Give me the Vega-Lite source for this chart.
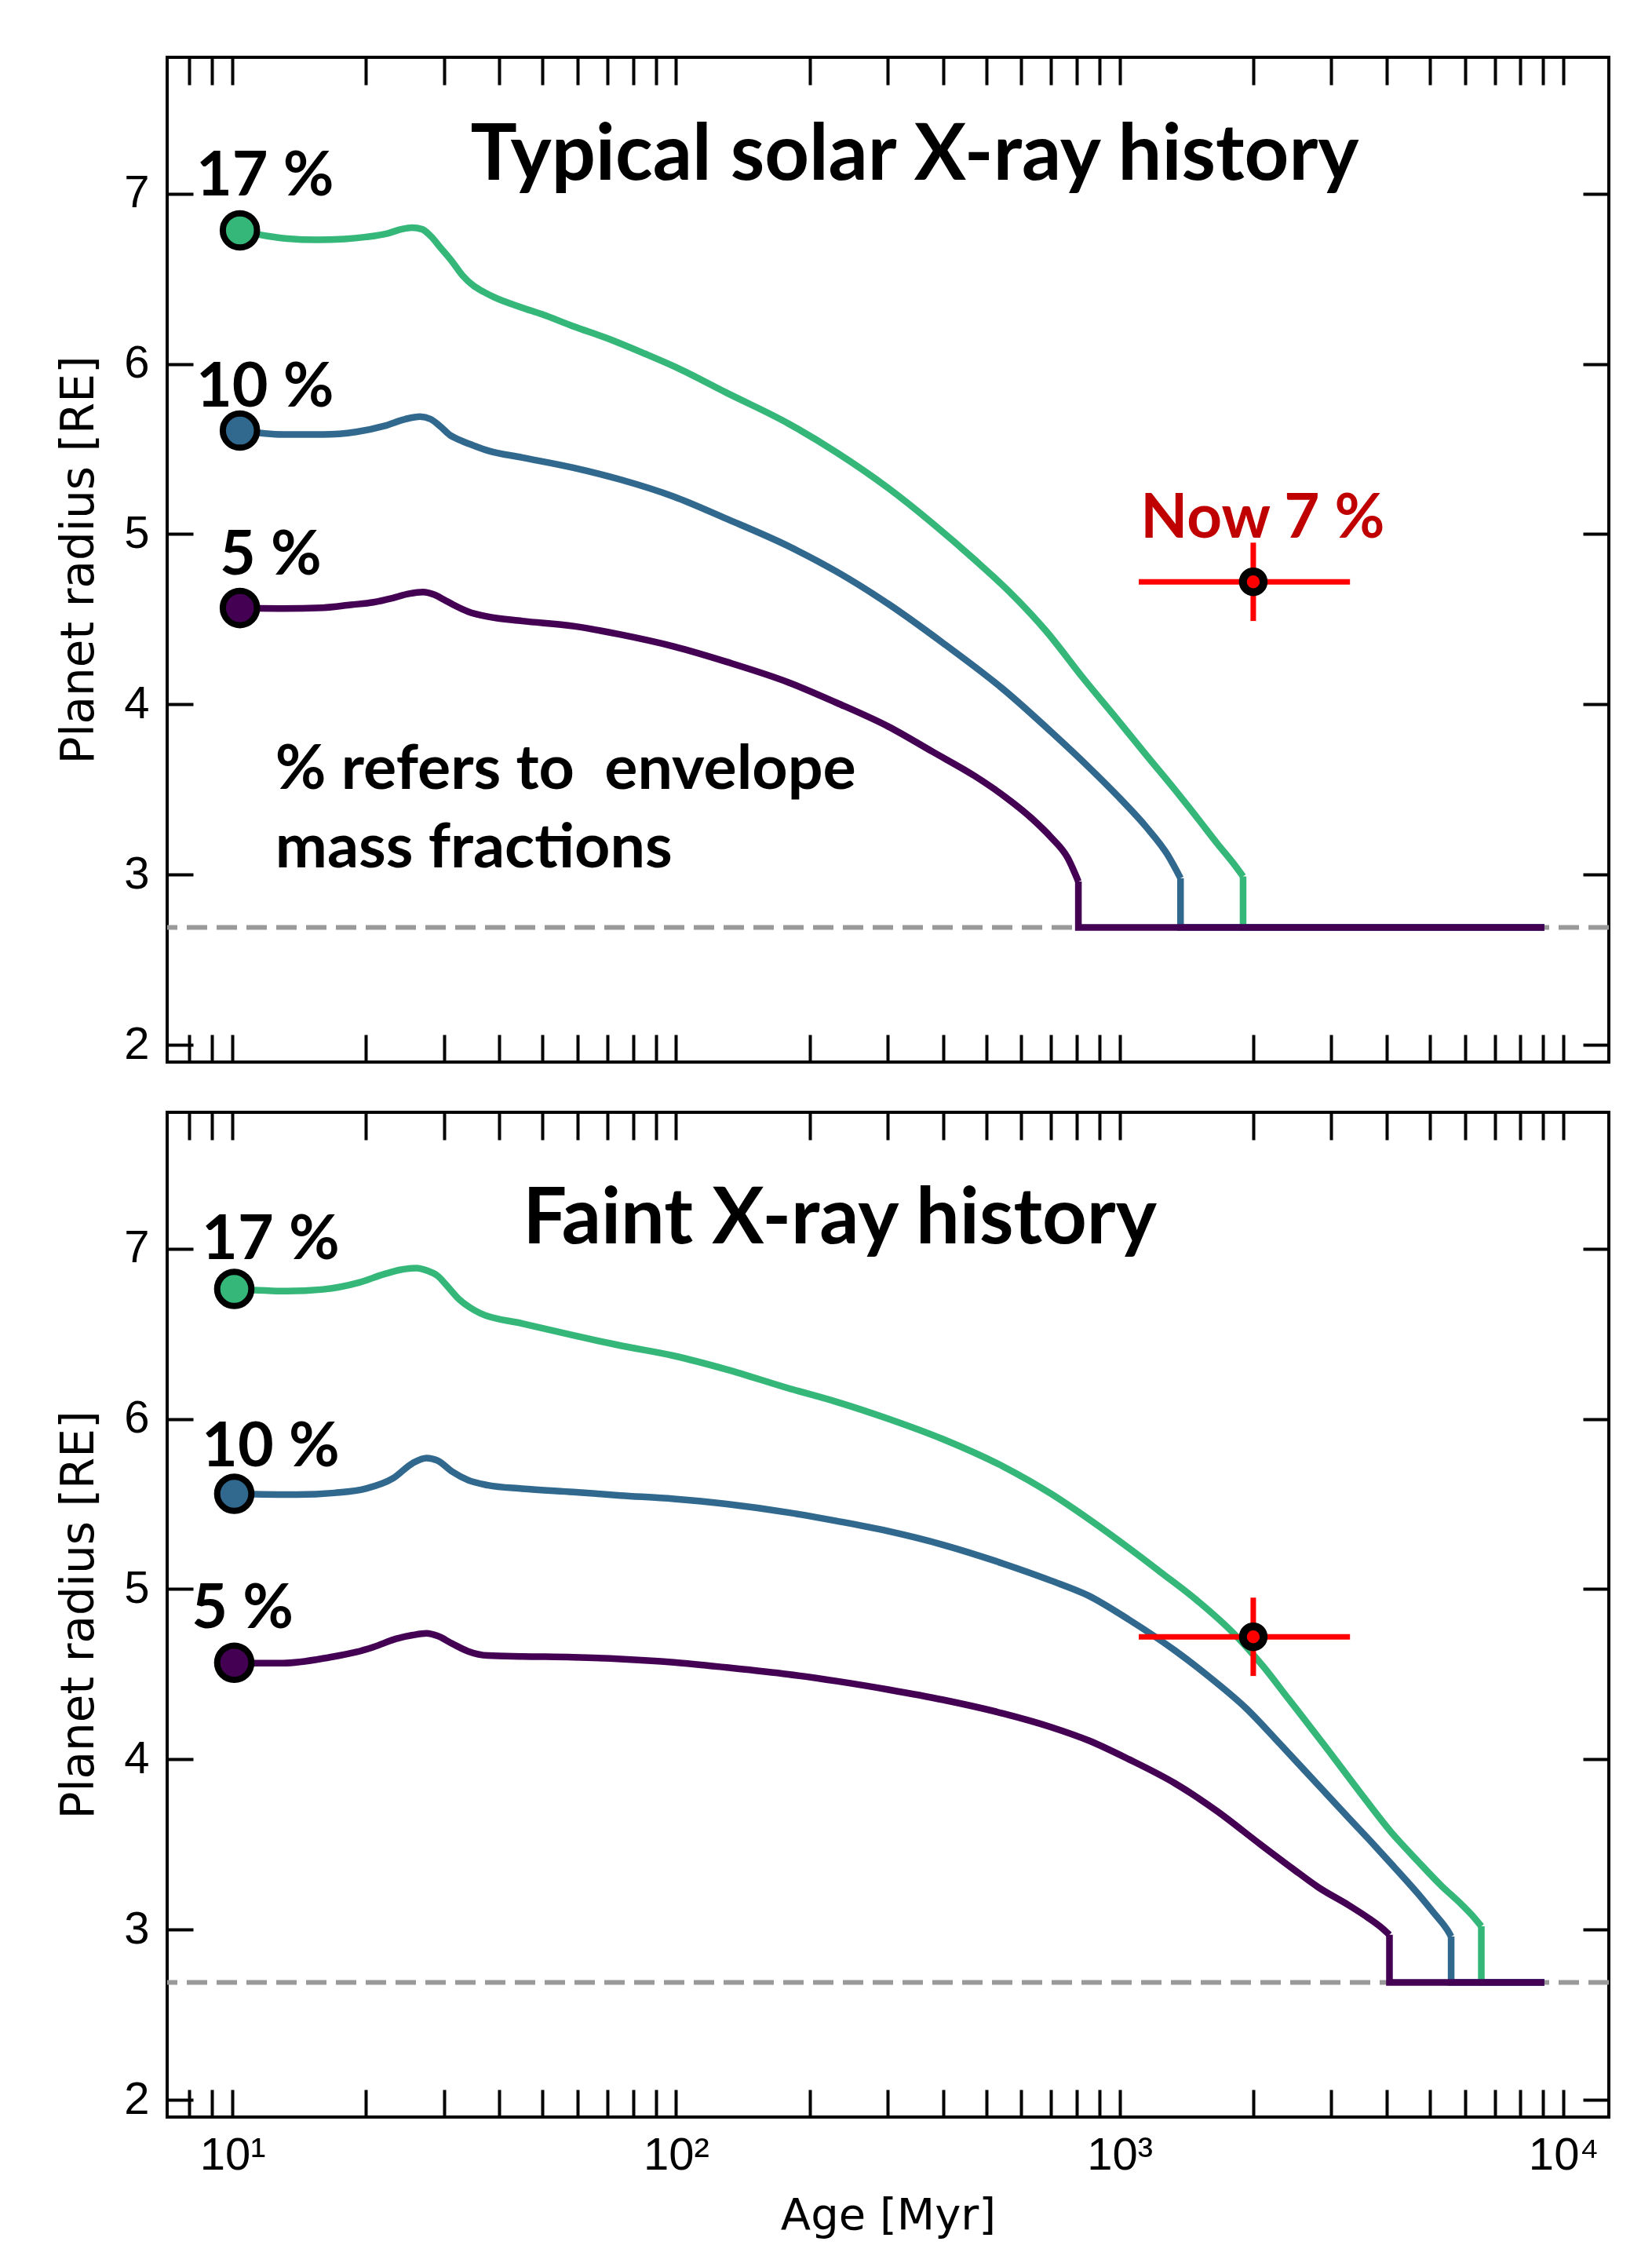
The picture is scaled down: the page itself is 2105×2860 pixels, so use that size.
{
  "$schema": "https://vega.github.io/schema/vega-lite/v6.json",
  "background": "white",
  "padding": {"left": 70, "top": 69, "right": 10, "bottom": 4},
  "spacing": 50,
  "config": {
    "view": {"stroke": "black", "strokeWidth": 4},
    "axis": {"domain": false, "grid": false, "tickColor": "black", "tickWidth": 4, "labelFont": "Liberation Sans", "labelFontSize": 58, "labelColor": "black", "titleFont": "DejaVu Sans", "titleFontSize": 58, "titleFontWeight": "normal", "titleColor": "black", "labelOverlap": false, "labelFlush": false}
  },
  "datasets": {
    "curves": [
      {"panel":"top","series":"17 %","seg":"s","age":10.4,"radius":6.784},
      {"panel":"top","series":"17 %","seg":"s","age":12,"radius":6.75},
      {"panel":"top","series":"17 %","seg":"s","age":13.3,"radius":6.735},
      {"panel":"top","series":"17 %","seg":"s","age":15.5,"radius":6.728},
      {"panel":"top","series":"17 %","seg":"s","age":17.9,"radius":6.733},
      {"panel":"top","series":"17 %","seg":"s","age":20,"radius":6.745},
      {"panel":"top","series":"17 %","seg":"s","age":22.4,"radius":6.766},
      {"panel":"top","series":"17 %","seg":"s","age":24,"radius":6.79},
      {"panel":"top","series":"17 %","seg":"s","age":25.4,"radius":6.8},
      {"panel":"top","series":"17 %","seg":"s","age":26.8,"radius":6.79},
      {"panel":"top","series":"17 %","seg":"s","age":28,"radius":6.75},
      {"panel":"top","series":"17 %","seg":"s","age":29.5,"radius":6.68},
      {"panel":"top","series":"17 %","seg":"s","age":31.3,"radius":6.6},
      {"panel":"top","series":"17 %","seg":"s","age":33,"radius":6.52},
      {"panel":"top","series":"17 %","seg":"s","age":34.9,"radius":6.46},
      {"panel":"top","series":"17 %","seg":"s","age":37,"radius":6.42},
      {"panel":"top","series":"17 %","seg":"s","age":39,"radius":6.39},
      {"panel":"top","series":"17 %","seg":"s","age":45,"radius":6.33},
      {"panel":"top","series":"17 %","seg":"s","age":50,"radius":6.29},
      {"panel":"top","series":"17 %","seg":"s","age":58.7,"radius":6.22},
      {"panel":"top","series":"17 %","seg":"s","age":70,"radius":6.15},
      {"panel":"top","series":"17 %","seg":"s","age":85,"radius":6.06},
      {"panel":"top","series":"17 %","seg":"s","age":100,"radius":5.98},
      {"panel":"top","series":"17 %","seg":"s","age":130,"radius":5.83},
      {"panel":"top","series":"17 %","seg":"s","age":179,"radius":5.65},
      {"panel":"top","series":"17 %","seg":"s","age":230,"radius":5.48},
      {"panel":"top","series":"17 %","seg":"s","age":301,"radius":5.27},
      {"panel":"top","series":"17 %","seg":"s","age":380,"radius":5.06},
      {"panel":"top","series":"17 %","seg":"s","age":471,"radius":4.85},
      {"panel":"top","series":"17 %","seg":"s","age":570,"radius":4.65},
      {"panel":"top","series":"17 %","seg":"s","age":683,"radius":4.43},
      {"panel":"top","series":"17 %","seg":"s","age":830,"radius":4.15},
      {"panel":"top","series":"17 %","seg":"s","age":989,"radius":3.91},
      {"panel":"top","series":"17 %","seg":"s","age":1150,"radius":3.7},
      {"panel":"top","series":"17 %","seg":"s","age":1331,"radius":3.5},
      {"panel":"top","series":"17 %","seg":"s","age":1500,"radius":3.33},
      {"panel":"top","series":"17 %","seg":"s","age":1663,"radius":3.18},
      {"panel":"top","series":"17 %","seg":"s","age":1800,"radius":3.07},
      {"panel":"top","series":"17 %","seg":"s","age":1897,"radius":2.99},
      {"panel":"top","series":"10 %","seg":"s","age":10.4,"radius":5.608},
      {"panel":"top","series":"10 %","seg":"s","age":13,"radius":5.585},
      {"panel":"top","series":"10 %","seg":"s","age":16,"radius":5.585},
      {"panel":"top","series":"10 %","seg":"s","age":19,"radius":5.6},
      {"panel":"top","series":"10 %","seg":"s","age":22,"radius":5.635},
      {"panel":"top","series":"10 %","seg":"s","age":24.5,"radius":5.675},
      {"panel":"top","series":"10 %","seg":"s","age":26.5,"radius":5.69},
      {"panel":"top","series":"10 %","seg":"s","age":28,"radius":5.675},
      {"panel":"top","series":"10 %","seg":"s","age":29.5,"radius":5.63},
      {"panel":"top","series":"10 %","seg":"s","age":31,"radius":5.58},
      {"panel":"top","series":"10 %","seg":"s","age":32.4,"radius":5.555},
      {"panel":"top","series":"10 %","seg":"s","age":35,"radius":5.52},
      {"panel":"top","series":"10 %","seg":"s","age":37.7,"radius":5.49},
      {"panel":"top","series":"10 %","seg":"s","age":45,"radius":5.45},
      {"panel":"top","series":"10 %","seg":"s","age":58.7,"radius":5.39},
      {"panel":"top","series":"10 %","seg":"s","age":75,"radius":5.32},
      {"panel":"top","series":"10 %","seg":"s","age":98.9,"radius":5.22},
      {"panel":"top","series":"10 %","seg":"s","age":130,"radius":5.09},
      {"panel":"top","series":"10 %","seg":"s","age":179,"radius":4.93},
      {"panel":"top","series":"10 %","seg":"s","age":230,"radius":4.78},
      {"panel":"top","series":"10 %","seg":"s","age":301,"radius":4.59},
      {"panel":"top","series":"10 %","seg":"s","age":400,"radius":4.36},
      {"panel":"top","series":"10 %","seg":"s","age":546,"radius":4.09},
      {"panel":"top","series":"10 %","seg":"s","age":700,"radius":3.84},
      {"panel":"top","series":"10 %","seg":"s","age":853,"radius":3.63},
      {"panel":"top","series":"10 %","seg":"s","age":1000,"radius":3.45},
      {"panel":"top","series":"10 %","seg":"s","age":1148,"radius":3.28},
      {"panel":"top","series":"10 %","seg":"s","age":1280,"radius":3.12},
      {"panel":"top","series":"10 %","seg":"s","age":1371,"radius":2.98},
      {"panel":"top","series":"5 %","seg":"s","age":10.4,"radius":4.566},
      {"panel":"top","series":"5 %","seg":"s","age":13,"radius":4.563},
      {"panel":"top","series":"5 %","seg":"s","age":16,"radius":4.568},
      {"panel":"top","series":"5 %","seg":"s","age":18.5,"radius":4.585},
      {"panel":"top","series":"5 %","seg":"s","age":20.8,"radius":4.6},
      {"panel":"top","series":"5 %","seg":"s","age":23,"radius":4.625},
      {"panel":"top","series":"5 %","seg":"s","age":25,"radius":4.65},
      {"panel":"top","series":"5 %","seg":"s","age":26.9,"radius":4.66},
      {"panel":"top","series":"5 %","seg":"s","age":28.5,"radius":4.645},
      {"panel":"top","series":"5 %","seg":"s","age":30,"radius":4.615},
      {"panel":"top","series":"5 %","seg":"s","age":31.5,"radius":4.585},
      {"panel":"top","series":"5 %","seg":"s","age":34,"radius":4.545},
      {"panel":"top","series":"5 %","seg":"s","age":37.7,"radius":4.515},
      {"panel":"top","series":"5 %","seg":"s","age":45,"radius":4.49},
      {"panel":"top","series":"5 %","seg":"s","age":58.7,"radius":4.46},
      {"panel":"top","series":"5 %","seg":"s","age":75,"radius":4.41},
      {"panel":"top","series":"5 %","seg":"s","age":98.9,"radius":4.34},
      {"panel":"top","series":"5 %","seg":"s","age":130,"radius":4.25},
      {"panel":"top","series":"5 %","seg":"s","age":179,"radius":4.13},
      {"panel":"top","series":"5 %","seg":"s","age":230,"radius":4.01},
      {"panel":"top","series":"5 %","seg":"s","age":301,"radius":3.87},
      {"panel":"top","series":"5 %","seg":"s","age":380,"radius":3.72},
      {"panel":"top","series":"5 %","seg":"s","age":471,"radius":3.58},
      {"panel":"top","series":"5 %","seg":"s","age":550,"radius":3.46},
      {"panel":"top","series":"5 %","seg":"s","age":634,"radius":3.33},
      {"panel":"top","series":"5 %","seg":"s","age":700,"radius":3.22},
      {"panel":"top","series":"5 %","seg":"s","age":763,"radius":3.1},
      {"panel":"top","series":"5 %","seg":"s","age":807,"radius":2.96},
      {"panel":"top","series":"17 %","seg":"d","age":1897,"radius":2.99},
      {"panel":"top","series":"17 %","seg":"d","age":1897,"radius":2.69},
      {"panel":"top","series":"17 %","seg":"d","age":9060,"radius":2.69},
      {"panel":"top","series":"10 %","seg":"d","age":1371,"radius":2.98},
      {"panel":"top","series":"10 %","seg":"d","age":1371,"radius":2.69},
      {"panel":"top","series":"10 %","seg":"d","age":9060,"radius":2.69},
      {"panel":"top","series":"5 %","seg":"d","age":807,"radius":2.96},
      {"panel":"top","series":"5 %","seg":"d","age":807,"radius":2.69},
      {"panel":"top","series":"5 %","seg":"d","age":9060,"radius":2.69},
      {"panel":"bottom","series":"17 %","seg":"s","age":10.1,"radius":6.763},
      {"panel":"bottom","series":"17 %","seg":"s","age":13.3,"radius":6.75},
      {"panel":"bottom","series":"17 %","seg":"s","age":16,"radius":6.76},
      {"panel":"bottom","series":"17 %","seg":"s","age":19.3,"radius":6.8},
      {"panel":"bottom","series":"17 %","seg":"s","age":22,"radius":6.85},
      {"panel":"bottom","series":"17 %","seg":"s","age":24.5,"radius":6.88},
      {"panel":"bottom","series":"17 %","seg":"s","age":26,"radius":6.885},
      {"panel":"bottom","series":"17 %","seg":"s","age":27.5,"radius":6.87},
      {"panel":"bottom","series":"17 %","seg":"s","age":29,"radius":6.84},
      {"panel":"bottom","series":"17 %","seg":"s","age":30.5,"radius":6.78},
      {"panel":"bottom","series":"17 %","seg":"s","age":32.5,"radius":6.7},
      {"panel":"bottom","series":"17 %","seg":"s","age":34.5,"radius":6.65},
      {"panel":"bottom","series":"17 %","seg":"s","age":36.2,"radius":6.62},
      {"panel":"bottom","series":"17 %","seg":"s","age":45,"radius":6.56},
      {"panel":"bottom","series":"17 %","seg":"s","age":58.7,"radius":6.49},
      {"panel":"bottom","series":"17 %","seg":"s","age":75,"radius":6.43},
      {"panel":"bottom","series":"17 %","seg":"s","age":98.9,"radius":6.37},
      {"panel":"bottom","series":"17 %","seg":"s","age":130,"radius":6.29},
      {"panel":"bottom","series":"17 %","seg":"s","age":179,"radius":6.18},
      {"panel":"bottom","series":"17 %","seg":"s","age":230,"radius":6.1},
      {"panel":"bottom","series":"17 %","seg":"s","age":301,"radius":6.0},
      {"panel":"bottom","series":"17 %","seg":"s","age":400,"radius":5.88},
      {"panel":"bottom","series":"17 %","seg":"s","age":546,"radius":5.72},
      {"panel":"bottom","series":"17 %","seg":"s","age":700,"radius":5.56},
      {"panel":"bottom","series":"17 %","seg":"s","age":853,"radius":5.41},
      {"panel":"bottom","series":"17 %","seg":"s","age":1050,"radius":5.24},
      {"panel":"bottom","series":"17 %","seg":"s","age":1236,"radius":5.1},
      {"panel":"bottom","series":"17 %","seg":"s","age":1500,"radius":4.93},
      {"panel":"bottom","series":"17 %","seg":"s","age":1791,"radius":4.75},
      {"panel":"bottom","series":"17 %","seg":"s","age":2100,"radius":4.55},
      {"panel":"bottom","series":"17 %","seg":"s","age":2410,"radius":4.35},
      {"panel":"bottom","series":"17 %","seg":"s","age":2900,"radius":4.08},
      {"panel":"bottom","series":"17 %","seg":"s","age":3497,"radius":3.8},
      {"panel":"bottom","series":"17 %","seg":"s","age":4100,"radius":3.57},
      {"panel":"bottom","series":"17 %","seg":"s","age":4707,"radius":3.4},
      {"panel":"bottom","series":"17 %","seg":"s","age":5300,"radius":3.26},
      {"panel":"bottom","series":"17 %","seg":"s","age":5886,"radius":3.15},
      {"panel":"bottom","series":"17 %","seg":"s","age":6300,"radius":3.07},
      {"panel":"bottom","series":"17 %","seg":"s","age":6532,"radius":3.02},
      {"panel":"bottom","series":"10 %","seg":"s","age":10.1,"radius":5.56},
      {"panel":"bottom","series":"10 %","seg":"s","age":14,"radius":5.555},
      {"panel":"bottom","series":"10 %","seg":"s","age":17,"radius":5.565},
      {"panel":"bottom","series":"10 %","seg":"s","age":20,"radius":5.59},
      {"panel":"bottom","series":"10 %","seg":"s","age":23,"radius":5.65},
      {"panel":"bottom","series":"10 %","seg":"s","age":25.5,"radius":5.74},
      {"panel":"bottom","series":"10 %","seg":"s","age":27.4,"radius":5.77},
      {"panel":"bottom","series":"10 %","seg":"s","age":29,"radius":5.755},
      {"panel":"bottom","series":"10 %","seg":"s","age":31.3,"radius":5.69},
      {"panel":"bottom","series":"10 %","seg":"s","age":34,"radius":5.64},
      {"panel":"bottom","series":"10 %","seg":"s","age":37.7,"radius":5.61},
      {"panel":"bottom","series":"10 %","seg":"s","age":45,"radius":5.59},
      {"panel":"bottom","series":"10 %","seg":"s","age":58.7,"radius":5.57},
      {"panel":"bottom","series":"10 %","seg":"s","age":75,"radius":5.55},
      {"panel":"bottom","series":"10 %","seg":"s","age":98.9,"radius":5.53},
      {"panel":"bottom","series":"10 %","seg":"s","age":130,"radius":5.5},
      {"panel":"bottom","series":"10 %","seg":"s","age":179,"radius":5.45},
      {"panel":"bottom","series":"10 %","seg":"s","age":230,"radius":5.4},
      {"panel":"bottom","series":"10 %","seg":"s","age":301,"radius":5.34},
      {"panel":"bottom","series":"10 %","seg":"s","age":400,"radius":5.26},
      {"panel":"bottom","series":"10 %","seg":"s","age":546,"radius":5.15},
      {"panel":"bottom","series":"10 %","seg":"s","age":700,"radius":5.05},
      {"panel":"bottom","series":"10 %","seg":"s","age":853,"radius":4.96},
      {"panel":"bottom","series":"10 %","seg":"s","age":1050,"radius":4.82},
      {"panel":"bottom","series":"10 %","seg":"s","age":1331,"radius":4.64},
      {"panel":"bottom","series":"10 %","seg":"s","age":1600,"radius":4.48},
      {"panel":"bottom","series":"10 %","seg":"s","age":1928,"radius":4.3},
      {"panel":"bottom","series":"10 %","seg":"s","age":2300,"radius":4.09},
      {"panel":"bottom","series":"10 %","seg":"s","age":2800,"radius":3.85},
      {"panel":"bottom","series":"10 %","seg":"s","age":3300,"radius":3.65},
      {"panel":"bottom","series":"10 %","seg":"s","age":3767,"radius":3.49},
      {"panel":"bottom","series":"10 %","seg":"s","age":4250,"radius":3.34},
      {"panel":"bottom","series":"10 %","seg":"s","age":4707,"radius":3.21},
      {"panel":"bottom","series":"10 %","seg":"s","age":5100,"radius":3.1},
      {"panel":"bottom","series":"10 %","seg":"s","age":5470,"radius":3.0},
      {"panel":"bottom","series":"10 %","seg":"s","age":5585,"radius":2.96},
      {"panel":"bottom","series":"5 %","seg":"s","age":10.1,"radius":4.568},
      {"panel":"bottom","series":"5 %","seg":"s","age":13,"radius":4.565},
      {"panel":"bottom","series":"5 %","seg":"s","age":16.6,"radius":4.6},
      {"panel":"bottom","series":"5 %","seg":"s","age":19,"radius":4.63},
      {"panel":"bottom","series":"5 %","seg":"s","age":20.8,"radius":4.66},
      {"panel":"bottom","series":"5 %","seg":"s","age":23.5,"radius":4.71},
      {"panel":"bottom","series":"5 %","seg":"s","age":25.5,"radius":4.73},
      {"panel":"bottom","series":"5 %","seg":"s","age":27.4,"radius":4.74},
      {"panel":"bottom","series":"5 %","seg":"s","age":29,"radius":4.725},
      {"panel":"bottom","series":"5 %","seg":"s","age":31.3,"radius":4.68},
      {"panel":"bottom","series":"5 %","seg":"s","age":34,"radius":4.635},
      {"panel":"bottom","series":"5 %","seg":"s","age":37.7,"radius":4.61},
      {"panel":"bottom","series":"5 %","seg":"s","age":45,"radius":4.605},
      {"panel":"bottom","series":"5 %","seg":"s","age":58.7,"radius":4.6},
      {"panel":"bottom","series":"5 %","seg":"s","age":75,"radius":4.59},
      {"panel":"bottom","series":"5 %","seg":"s","age":98.9,"radius":4.57},
      {"panel":"bottom","series":"5 %","seg":"s","age":130,"radius":4.54},
      {"panel":"bottom","series":"5 %","seg":"s","age":179,"radius":4.5},
      {"panel":"bottom","series":"5 %","seg":"s","age":230,"radius":4.46},
      {"panel":"bottom","series":"5 %","seg":"s","age":301,"radius":4.41},
      {"panel":"bottom","series":"5 %","seg":"s","age":400,"radius":4.35},
      {"panel":"bottom","series":"5 %","seg":"s","age":546,"radius":4.27},
      {"panel":"bottom","series":"5 %","seg":"s","age":700,"radius":4.19},
      {"panel":"bottom","series":"5 %","seg":"s","age":853,"radius":4.11},
      {"panel":"bottom","series":"5 %","seg":"s","age":1050,"radius":4.0},
      {"panel":"bottom","series":"5 %","seg":"s","age":1331,"radius":3.86},
      {"panel":"bottom","series":"5 %","seg":"s","age":1650,"radius":3.7},
      {"panel":"bottom","series":"5 %","seg":"s","age":2078,"radius":3.5},
      {"panel":"bottom","series":"5 %","seg":"s","age":2450,"radius":3.36},
      {"panel":"bottom","series":"5 %","seg":"s","age":2800,"radius":3.25},
      {"panel":"bottom","series":"5 %","seg":"s","age":3300,"radius":3.14},
      {"panel":"bottom","series":"5 %","seg":"s","age":3630,"radius":3.07},
      {"panel":"bottom","series":"5 %","seg":"s","age":3900,"radius":3.01},
      {"panel":"bottom","series":"5 %","seg":"s","age":4055,"radius":2.97},
      {"panel":"bottom","series":"17 %","seg":"d","age":6532,"radius":3.02},
      {"panel":"bottom","series":"17 %","seg":"d","age":6532,"radius":2.69},
      {"panel":"bottom","series":"17 %","seg":"d","age":9060,"radius":2.69},
      {"panel":"bottom","series":"10 %","seg":"d","age":5585,"radius":2.96},
      {"panel":"bottom","series":"10 %","seg":"d","age":5585,"radius":2.69},
      {"panel":"bottom","series":"10 %","seg":"d","age":9060,"radius":2.69},
      {"panel":"bottom","series":"5 %","seg":"d","age":4055,"radius":2.97},
      {"panel":"bottom","series":"5 %","seg":"d","age":4055,"radius":2.69},
      {"panel":"bottom","series":"5 %","seg":"d","age":9060,"radius":2.69}
    ],
    "labels": [
      {"panel":"top","label":"17 %","age":11.85,"radius":6.99},
      {"panel":"top","label":"10 %","age":11.85,"radius":5.75},
      {"panel":"top","label":"5 %","age":12.2,"radius":4.764},
      {"panel":"bottom","label":"17 %","age":12.2,"radius":6.94},
      {"panel":"bottom","label":"10 %","age":12.2,"radius":5.72},
      {"panel":"bottom","label":"5 %","age":10.55,"radius":4.77}
    ],
    "notes": [
      {"panel":"top","label":"% refers to \u00a0envelope\nmass fractions","age":12.5,"radius":3.505}
    ],
    "titles": [
      {"panel":"top","label":"Typical solar X-ray history","age":345,"radius":7.08},
      {"panel":"bottom","label":"Faint X-ray history","age":234,"radius":7.03}
    ],
    "obs": [
      {"age":2000,"age_lo":1104,"age_hi":3304,"radius":4.72,"radius_lo":4.49,"radius_hi":4.95}
    ],
    "now": [
      {"panel":"top","label":"Now 7 %","age":2100,"radius":4.98}
    ],
    "floor": [
      {"radius":2.69}
    ]
  },
  "vconcat": [
    {
      "width": 1837,
      "height": 1280,
      "resolve": {"axis": {"x": "independent", "y": "independent"}},
      "layer": [
        {
          "data": {"name": "floor"},
          "mark": {"type": "rule", "color": "#999999", "strokeWidth": 6, "strokeDash": [26, 12]},
          "encoding": {
            "y": {"field": "radius", "type": "quantitative", "scale": {"domain": [1.9, 7.8], "nice": false, "zero": false}, "axis": null}
          }
        },
        {
          "data": {"name": "curves"},
          "transform": [{"filter": "datum.panel === 'top' && datum.seg === 's'"}],
          "mark": {"type": "line", "strokeWidth": 8.5, "interpolate": "monotone"},
          "encoding": {
            "x": {"field": "age", "type": "quantitative", "scale": {"type": "log", "domain": [7.13, 12660], "nice": false},
                  "axis": {"orient": "bottom", "values": [8,9,10,20,30,40,50,60,70,80,90,100,200,300,400,500,600,700,800,900,1000,2000,3000,4000,5000,6000,7000,8000,9000,10000], "labels": false, "tickSize": -35, "title": null}},
            "y": {"field": "radius", "type": "quantitative", "scale": {"domain": [1.9, 7.8], "nice": false, "zero": false},
                  "axis": {"orient": "left", "values": [2,3,4,5,6,7], "format": "d", "tickSize": -33, "labelPadding": 56, "title": "Planet radius [RE]", "titlePadding": 27}},
            "color": {"field": "series", "type": "nominal", "scale": {"domain": ["17 %","10 %","5 %"], "range": ["#35b779","#31688e","#440154"]}, "legend": null}
          }
        },
        {
          "data": {"name": "curves"},
          "transform": [{"filter": "datum.panel === 'top' && datum.seg === 'd'"}],
          "mark": {"type": "line", "strokeWidth": 8.5},
          "encoding": {
            "x": {"field": "age", "type": "quantitative", "scale": {"type": "log", "domain": [7.13, 12660], "nice": false}, "axis": null},
            "y": {"field": "radius", "type": "quantitative", "scale": {"domain": [1.9, 7.8], "nice": false, "zero": false}, "axis": null},
            "color": {"field": "series", "type": "nominal", "scale": {"domain": ["17 %","10 %","5 %"], "range": ["#35b779","#31688e","#440154"]}, "legend": null}
          }
        },
        {
          "data": {"name": "curves"},
          "transform": [{"filter": "datum.panel === 'top' && datum.age < 10.6"}],
          "mark": {"type": "circle", "size": 1900, "stroke": "black", "strokeWidth": 8, "opacity": 1},
          "encoding": {
            "x": {"field": "age", "type": "quantitative", "scale": {"type": "log", "domain": [7.13, 12660], "nice": false}, "axis": null},
            "y": {"field": "radius", "type": "quantitative", "scale": {"domain": [1.9, 7.8], "nice": false, "zero": false}, "axis": null},
            "color": {"field": "series", "type": "nominal", "scale": {"domain": ["17 %","10 %","5 %"], "range": ["#35b779","#31688e","#440154"]}, "legend": null}
          }
        },
        {
          "data": {"name": "labels"},
          "transform": [{"filter": "datum.panel === 'top'"}],
          "mark": {"type": "text", "font": "Lato", "fontWeight": "bold", "fontSize": 79, "align": "center", "baseline": "alphabetic", "color": "black"},
          "encoding": {
            "x": {"field": "age", "type": "quantitative", "scale": {"type": "log", "domain": [7.13, 12660], "nice": false}, "axis": null},
            "y": {"field": "radius", "type": "quantitative", "scale": {"domain": [1.9, 7.8], "nice": false, "zero": false}, "axis": null},
            "text": {"field": "label"}
          }
        },
        {
          "data": {"name": "notes"},
          "transform": [{"filter": "datum.panel === 'top'"}],
          "mark": {"type": "text", "font": "Lato", "fontWeight": "bold", "fontSize": 79, "align": "left", "baseline": "alphabetic", "color": "black", "lineBreak": "\n", "lineHeight": 100},
          "encoding": {
            "x": {"field": "age", "type": "quantitative", "scale": {"type": "log", "domain": [7.13, 12660], "nice": false}, "axis": null},
            "y": {"field": "radius", "type": "quantitative", "scale": {"domain": [1.9, 7.8], "nice": false, "zero": false}, "axis": null},
            "text": {"field": "label"}
          }
        },
        {
          "data": {"name": "titles"},
          "transform": [{"filter": "datum.panel === 'top'"}],
          "mark": {"type": "text", "font": "Lato", "fontWeight": "bold", "fontSize": 99, "align": "center", "baseline": "alphabetic", "color": "black"},
          "encoding": {
            "x": {"field": "age", "type": "quantitative", "scale": {"type": "log", "domain": [7.13, 12660], "nice": false}, "axis": null},
            "y": {"field": "radius", "type": "quantitative", "scale": {"domain": [1.9, 7.8], "nice": false, "zero": false}, "axis": null},
            "text": {"field": "label"}
          }
        },
        {
          "data": {"name": "now"},
          "mark": {"type": "text", "font": "Lato", "fontWeight": "bold", "fontSize": 78, "align": "center", "baseline": "alphabetic", "color": "#c00000"},
          "encoding": {
            "x": {"field": "age", "type": "quantitative", "scale": {"type": "log", "domain": [7.13, 12660], "nice": false}, "axis": null},
            "y": {"field": "radius", "type": "quantitative", "scale": {"domain": [1.9, 7.8], "nice": false, "zero": false}, "axis": null},
            "text": {"field": "label"}
          }
        },
        {
          "data": {"name": "obs"},
          "mark": {"type": "rule", "color": "#ff0000", "strokeWidth": 7},
          "encoding": {
            "x": {"field": "age_lo", "type": "quantitative", "scale": {"type": "log", "domain": [7.13, 12660], "nice": false}, "axis": null},
            "x2": {"field": "age_hi"},
            "y": {"field": "radius", "type": "quantitative", "scale": {"domain": [1.9, 7.8], "nice": false, "zero": false}, "axis": null}
          }
        },
        {
          "data": {"name": "obs"},
          "mark": {"type": "rule", "color": "#ff0000", "strokeWidth": 7},
          "encoding": {
            "x": {"field": "age", "type": "quantitative", "scale": {"type": "log", "domain": [7.13, 12660], "nice": false}, "axis": null},
            "y": {"field": "radius_lo", "type": "quantitative", "scale": {"domain": [1.9, 7.8], "nice": false, "zero": false}, "axis": null},
            "y2": {"field": "radius_hi"}
          }
        },
        {
          "data": {"name": "obs"},
          "mark": {"type": "circle", "size": 700, "fill": "#ff0000", "stroke": "black", "strokeWidth": 10, "opacity": 1},
          "encoding": {
            "x": {"field": "age", "type": "quantitative", "scale": {"type": "log", "domain": [7.13, 12660], "nice": false}, "axis": null},
            "y": {"field": "radius", "type": "quantitative", "scale": {"domain": [1.9, 7.8], "nice": false, "zero": false}, "axis": null}
          }
        },
        {
          "data": {"name": "obs"},
          "mark": {"type": "point", "opacity": 0},
          "encoding": {
            "x": {"field": "age", "type": "quantitative", "scale": {"type": "log", "domain": [7.13, 12660], "nice": false},
                  "axis": {"orient": "top", "values": [8,9,10,20,30,40,50,60,70,80,90,100,200,300,400,500,600,700,800,900,1000,2000,3000,4000,5000,6000,7000,8000,9000,10000], "labels": false, "tickSize": -35, "title": null}},
            "y": {"field": "radius", "type": "quantitative", "scale": {"domain": [1.9, 7.8], "nice": false, "zero": false},
                  "axis": {"orient": "right", "values": [2,3,4,5,6,7], "labels": false, "tickSize": -33, "title": null}}
          }
        }
      ]
    },
    {
      "width": 1837,
      "height": 1280,
      "resolve": {"axis": {"x": "independent", "y": "independent"}},
      "layer": [
        {
          "data": {"name": "floor"},
          "mark": {"type": "rule", "color": "#999999", "strokeWidth": 6, "strokeDash": [26, 12]},
          "encoding": {
            "y": {"field": "radius", "type": "quantitative", "scale": {"domain": [1.9, 7.8], "nice": false, "zero": false}, "axis": null}
          }
        },
        {
          "data": {"name": "curves"},
          "transform": [{"filter": "datum.panel === 'bottom' && datum.seg === 's'"}],
          "mark": {"type": "line", "strokeWidth": 8.5, "interpolate": "monotone"},
          "encoding": {
            "x": {"field": "age", "type": "quantitative", "scale": {"type": "log", "domain": [7.13, 12660], "nice": false},
                  "axis": {"orient": "bottom", "values": [8,9,10,20,30,40,50,60,70,80,90,100,200,300,400,500,600,700,800,900,1000,2000,3000,4000,5000,6000,7000,8000,9000,10000], "tickSize": -35, "labelPadding": 55, "labelExpr": "datum.value == 10 ? '10¹' : datum.value == 100 ? '10²' : datum.value == 1000 ? '10³' : datum.value == 10000 ? '10⁴' : ''", "title": "Age [Myr]", "titlePadding": 20, "titleFontSize": 56}},
            "y": {"field": "radius", "type": "quantitative", "scale": {"domain": [1.9, 7.8], "nice": false, "zero": false},
                  "axis": {"orient": "left", "values": [2,3,4,5,6,7], "format": "d", "tickSize": -33, "labelPadding": 56, "title": "Planet radius [RE]", "titlePadding": 27}},
            "color": {"field": "series", "type": "nominal", "scale": {"domain": ["17 %","10 %","5 %"], "range": ["#35b779","#31688e","#440154"]}, "legend": null}
          }
        },
        {
          "data": {"name": "curves"},
          "transform": [{"filter": "datum.panel === 'bottom' && datum.seg === 'd'"}],
          "mark": {"type": "line", "strokeWidth": 8.5},
          "encoding": {
            "x": {"field": "age", "type": "quantitative", "scale": {"type": "log", "domain": [7.13, 12660], "nice": false}, "axis": null},
            "y": {"field": "radius", "type": "quantitative", "scale": {"domain": [1.9, 7.8], "nice": false, "zero": false}, "axis": null},
            "color": {"field": "series", "type": "nominal", "scale": {"domain": ["17 %","10 %","5 %"], "range": ["#35b779","#31688e","#440154"]}, "legend": null}
          }
        },
        {
          "data": {"name": "curves"},
          "transform": [{"filter": "datum.panel === 'bottom' && datum.age < 10.6"}],
          "mark": {"type": "circle", "size": 1900, "stroke": "black", "strokeWidth": 8, "opacity": 1},
          "encoding": {
            "x": {"field": "age", "type": "quantitative", "scale": {"type": "log", "domain": [7.13, 12660], "nice": false}, "axis": null},
            "y": {"field": "radius", "type": "quantitative", "scale": {"domain": [1.9, 7.8], "nice": false, "zero": false}, "axis": null},
            "color": {"field": "series", "type": "nominal", "scale": {"domain": ["17 %","10 %","5 %"], "range": ["#35b779","#31688e","#440154"]}, "legend": null}
          }
        },
        {
          "data": {"name": "labels"},
          "transform": [{"filter": "datum.panel === 'bottom'"}],
          "mark": {"type": "text", "font": "Lato", "fontWeight": "bold", "fontSize": 79, "align": "center", "baseline": "alphabetic", "color": "black"},
          "encoding": {
            "x": {"field": "age", "type": "quantitative", "scale": {"type": "log", "domain": [7.13, 12660], "nice": false}, "axis": null},
            "y": {"field": "radius", "type": "quantitative", "scale": {"domain": [1.9, 7.8], "nice": false, "zero": false}, "axis": null},
            "text": {"field": "label"}
          }
        },
        {
          "data": {"name": "titles"},
          "transform": [{"filter": "datum.panel === 'bottom'"}],
          "mark": {"type": "text", "font": "Lato", "fontWeight": "bold", "fontSize": 99, "align": "center", "baseline": "alphabetic", "color": "black"},
          "encoding": {
            "x": {"field": "age", "type": "quantitative", "scale": {"type": "log", "domain": [7.13, 12660], "nice": false}, "axis": null},
            "y": {"field": "radius", "type": "quantitative", "scale": {"domain": [1.9, 7.8], "nice": false, "zero": false}, "axis": null},
            "text": {"field": "label"}
          }
        },
        {
          "data": {"name": "obs"},
          "mark": {"type": "rule", "color": "#ff0000", "strokeWidth": 7},
          "encoding": {
            "x": {"field": "age_lo", "type": "quantitative", "scale": {"type": "log", "domain": [7.13, 12660], "nice": false}, "axis": null},
            "x2": {"field": "age_hi"},
            "y": {"field": "radius", "type": "quantitative", "scale": {"domain": [1.9, 7.8], "nice": false, "zero": false}, "axis": null}
          }
        },
        {
          "data": {"name": "obs"},
          "mark": {"type": "rule", "color": "#ff0000", "strokeWidth": 7},
          "encoding": {
            "x": {"field": "age", "type": "quantitative", "scale": {"type": "log", "domain": [7.13, 12660], "nice": false}, "axis": null},
            "y": {"field": "radius_lo", "type": "quantitative", "scale": {"domain": [1.9, 7.8], "nice": false, "zero": false}, "axis": null},
            "y2": {"field": "radius_hi"}
          }
        },
        {
          "data": {"name": "obs"},
          "mark": {"type": "circle", "size": 700, "fill": "#ff0000", "stroke": "black", "strokeWidth": 10, "opacity": 1},
          "encoding": {
            "x": {"field": "age", "type": "quantitative", "scale": {"type": "log", "domain": [7.13, 12660], "nice": false}, "axis": null},
            "y": {"field": "radius", "type": "quantitative", "scale": {"domain": [1.9, 7.8], "nice": false, "zero": false}, "axis": null}
          }
        },
        {
          "data": {"name": "obs"},
          "mark": {"type": "point", "opacity": 0},
          "encoding": {
            "x": {"field": "age", "type": "quantitative", "scale": {"type": "log", "domain": [7.13, 12660], "nice": false},
                  "axis": {"orient": "top", "values": [8,9,10,20,30,40,50,60,70,80,90,100,200,300,400,500,600,700,800,900,1000,2000,3000,4000,5000,6000,7000,8000,9000,10000], "labels": false, "tickSize": -35, "title": null}},
            "y": {"field": "radius", "type": "quantitative", "scale": {"domain": [1.9, 7.8], "nice": false, "zero": false},
                  "axis": {"orient": "right", "values": [2,3,4,5,6,7], "labels": false, "tickSize": -33, "title": null}}
          }
        }
      ]
    }
  ]
}
